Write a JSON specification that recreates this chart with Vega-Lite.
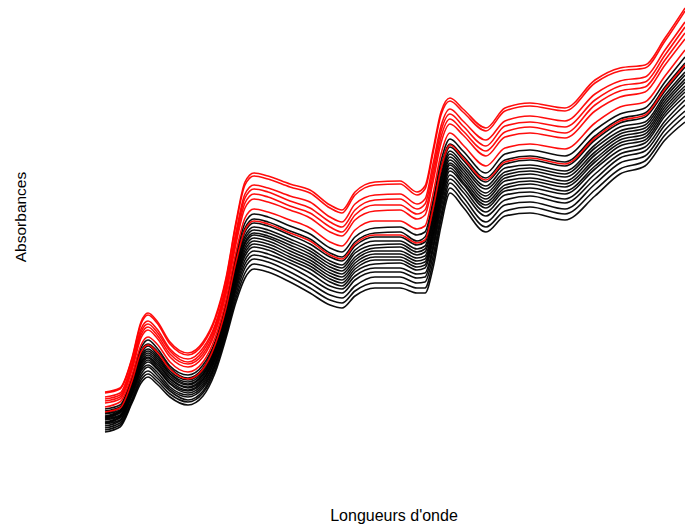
{
"$schema": "https://vega.github.io/schema/vega-lite/v6.json",
"width": 580, "height": 445,
"autosize": {"type": "none"},
"padding": {"left": 105, "top": 0, "right": 0, "bottom": 81},
"background": "white",
"config": {"view": {"stroke": null}},
"datasets": {
"black": [
{"g":1,"x":0,"y":36},{"g":1,"x":15,"y":40},{"g":1,"x":27,"y":68},{"g":1,"x":36,"y":97},{"g":1,"x":43,"y":105},{"g":1,"x":52,"y":97},{"g":1,"x":65,"y":79},{"g":1,"x":83,"y":70},{"g":1,"x":98,"y":80},{"g":1,"x":110,"y":103},{"g":1,"x":121,"y":141},{"g":1,"x":131,"y":189},{"g":1,"x":140,"y":222},{"g":1,"x":149,"y":231},{"g":1,"x":163,"y":228},{"g":1,"x":185,"y":219},{"g":1,"x":205,"y":211},{"g":1,"x":225,"y":197},{"g":1,"x":237,"y":193},{"g":1,"x":250,"y":208},{"g":1,"x":270,"y":217},{"g":1,"x":295,"y":218},{"g":1,"x":312,"y":210},{"g":1,"x":320,"y":213},{"g":1,"x":328,"y":244},{"g":1,"x":336,"y":284},{"g":1,"x":345,"y":306},{"g":1,"x":358,"y":294},{"g":1,"x":381,"y":272},{"g":1,"x":400,"y":291},{"g":1,"x":425,"y":295},{"g":1,"x":460,"y":289},{"g":1,"x":490,"y":315},{"g":1,"x":515,"y":331},{"g":1,"x":540,"y":337},{"g":1,"x":560,"y":363},{"g":1,"x":580,"y":388},
{"g":2,"x":0,"y":34},{"g":2,"x":15,"y":38},{"g":2,"x":27,"y":65},{"g":2,"x":36,"y":94},{"g":2,"x":43,"y":101},{"g":2,"x":52,"y":94},{"g":2,"x":65,"y":77},{"g":2,"x":83,"y":67},{"g":2,"x":98,"y":77},{"g":2,"x":110,"y":101},{"g":2,"x":121,"y":138},{"g":2,"x":131,"y":185},{"g":2,"x":140,"y":217},{"g":2,"x":149,"y":226},{"g":2,"x":163,"y":223},{"g":2,"x":185,"y":214},{"g":2,"x":205,"y":206},{"g":2,"x":225,"y":192},{"g":2,"x":237,"y":188},{"g":2,"x":250,"y":203},{"g":2,"x":270,"y":212},{"g":2,"x":295,"y":213},{"g":2,"x":312,"y":204},{"g":2,"x":320,"y":208},{"g":2,"x":328,"y":238},{"g":2,"x":336,"y":278},{"g":2,"x":345,"y":301},{"g":2,"x":358,"y":289},{"g":2,"x":381,"y":267},{"g":2,"x":400,"y":285},{"g":2,"x":425,"y":289},{"g":2,"x":460,"y":283},{"g":2,"x":490,"y":309},{"g":2,"x":515,"y":326},{"g":2,"x":540,"y":332},{"g":2,"x":560,"y":358},{"g":2,"x":580,"y":382},
{"g":3,"x":0,"y":32},{"g":3,"x":15,"y":37},{"g":3,"x":27,"y":64},{"g":3,"x":36,"y":91},{"g":3,"x":43,"y":99},{"g":3,"x":52,"y":91},{"g":3,"x":65,"y":74},{"g":3,"x":83,"y":65},{"g":3,"x":98,"y":75},{"g":3,"x":110,"y":98},{"g":3,"x":121,"y":136},{"g":3,"x":131,"y":181},{"g":3,"x":140,"y":213},{"g":3,"x":149,"y":222},{"g":3,"x":163,"y":219},{"g":3,"x":185,"y":210},{"g":3,"x":205,"y":201},{"g":3,"x":225,"y":188},{"g":3,"x":237,"y":184},{"g":3,"x":250,"y":199},{"g":3,"x":270,"y":208},{"g":3,"x":295,"y":208},{"g":3,"x":312,"y":200},{"g":3,"x":320,"y":203},{"g":3,"x":328,"y":234},{"g":3,"x":336,"y":274},{"g":3,"x":345,"y":298},{"g":3,"x":358,"y":285},{"g":3,"x":381,"y":263},{"g":3,"x":400,"y":281},{"g":3,"x":425,"y":285},{"g":3,"x":460,"y":279},{"g":3,"x":490,"y":305},{"g":3,"x":515,"y":322},{"g":3,"x":540,"y":328},{"g":3,"x":560,"y":354},{"g":3,"x":580,"y":378},
{"g":4,"x":0,"y":31},{"g":4,"x":15,"y":35},{"g":4,"x":27,"y":62},{"g":4,"x":36,"y":89},{"g":4,"x":43,"y":96},{"g":4,"x":52,"y":89},{"g":4,"x":65,"y":72},{"g":4,"x":83,"y":63},{"g":4,"x":98,"y":73},{"g":4,"x":110,"y":96},{"g":4,"x":121,"y":133},{"g":4,"x":131,"y":178},{"g":4,"x":140,"y":209},{"g":4,"x":149,"y":218},{"g":4,"x":163,"y":215},{"g":4,"x":185,"y":206},{"g":4,"x":205,"y":197},{"g":4,"x":225,"y":184},{"g":4,"x":237,"y":180},{"g":4,"x":250,"y":195},{"g":4,"x":270,"y":204},{"g":4,"x":295,"y":204},{"g":4,"x":312,"y":196},{"g":4,"x":320,"y":199},{"g":4,"x":328,"y":229},{"g":4,"x":336,"y":269},{"g":4,"x":345,"y":294},{"g":4,"x":358,"y":281},{"g":4,"x":381,"y":259},{"g":4,"x":400,"y":277},{"g":4,"x":425,"y":280},{"g":4,"x":460,"y":274},{"g":4,"x":490,"y":300},{"g":4,"x":515,"y":318},{"g":4,"x":540,"y":323},{"g":4,"x":560,"y":350},{"g":4,"x":580,"y":373},
{"g":5,"x":0,"y":29},{"g":5,"x":15,"y":34},{"g":5,"x":27,"y":60},{"g":5,"x":36,"y":87},{"g":5,"x":43,"y":94},{"g":5,"x":52,"y":87},{"g":5,"x":65,"y":71},{"g":5,"x":83,"y":61},{"g":5,"x":98,"y":71},{"g":5,"x":110,"y":95},{"g":5,"x":121,"y":132},{"g":5,"x":131,"y":176},{"g":5,"x":140,"y":206},{"g":5,"x":149,"y":215},{"g":5,"x":163,"y":212},{"g":5,"x":185,"y":203},{"g":5,"x":205,"y":194},{"g":5,"x":225,"y":181},{"g":5,"x":237,"y":177},{"g":5,"x":250,"y":192},{"g":5,"x":270,"y":200},{"g":5,"x":295,"y":201},{"g":5,"x":312,"y":193},{"g":5,"x":320,"y":196},{"g":5,"x":328,"y":225},{"g":5,"x":336,"y":266},{"g":5,"x":345,"y":291},{"g":5,"x":358,"y":278},{"g":5,"x":381,"y":256},{"g":5,"x":400,"y":273},{"g":5,"x":425,"y":277},{"g":5,"x":460,"y":271},{"g":5,"x":490,"y":297},{"g":5,"x":515,"y":314},{"g":5,"x":540,"y":320},{"g":5,"x":560,"y":347},{"g":5,"x":580,"y":370},
{"g":6,"x":0,"y":28},{"g":6,"x":15,"y":33},{"g":6,"x":27,"y":59},{"g":6,"x":36,"y":85},{"g":6,"x":43,"y":92},{"g":6,"x":52,"y":85},{"g":6,"x":65,"y":69},{"g":6,"x":83,"y":60},{"g":6,"x":98,"y":70},{"g":6,"x":110,"y":93},{"g":6,"x":121,"y":130},{"g":6,"x":131,"y":173},{"g":6,"x":140,"y":203},{"g":6,"x":149,"y":212},{"g":6,"x":163,"y":209},{"g":6,"x":185,"y":200},{"g":6,"x":205,"y":191},{"g":6,"x":225,"y":178},{"g":6,"x":237,"y":174},{"g":6,"x":250,"y":188},{"g":6,"x":270,"y":197},{"g":6,"x":295,"y":198},{"g":6,"x":312,"y":190},{"g":6,"x":320,"y":193},{"g":6,"x":328,"y":222},{"g":6,"x":336,"y":262},{"g":6,"x":345,"y":288},{"g":6,"x":358,"y":275},{"g":6,"x":381,"y":252},{"g":6,"x":400,"y":270},{"g":6,"x":425,"y":274},{"g":6,"x":460,"y":268},{"g":6,"x":490,"y":293},{"g":6,"x":515,"y":311},{"g":6,"x":540,"y":317},{"g":6,"x":560,"y":344},{"g":6,"x":580,"y":366},
{"g":7,"x":0,"y":27},{"g":7,"x":15,"y":32},{"g":7,"x":27,"y":58},{"g":7,"x":36,"y":83},{"g":7,"x":43,"y":90},{"g":7,"x":52,"y":83},{"g":7,"x":65,"y":67},{"g":7,"x":83,"y":58},{"g":7,"x":98,"y":68},{"g":7,"x":110,"y":91},{"g":7,"x":121,"y":128},{"g":7,"x":131,"y":171},{"g":7,"x":140,"y":201},{"g":7,"x":149,"y":210},{"g":7,"x":163,"y":207},{"g":7,"x":185,"y":197},{"g":7,"x":205,"y":188},{"g":7,"x":225,"y":175},{"g":7,"x":237,"y":171},{"g":7,"x":250,"y":185},{"g":7,"x":270,"y":194},{"g":7,"x":295,"y":194},{"g":7,"x":312,"y":187},{"g":7,"x":320,"y":189},{"g":7,"x":328,"y":218},{"g":7,"x":336,"y":259},{"g":7,"x":345,"y":285},{"g":7,"x":358,"y":272},{"g":7,"x":381,"y":249},{"g":7,"x":400,"y":267},{"g":7,"x":425,"y":271},{"g":7,"x":460,"y":264},{"g":7,"x":490,"y":290},{"g":7,"x":515,"y":308},{"g":7,"x":540,"y":314},{"g":7,"x":560,"y":341},{"g":7,"x":580,"y":363},
{"g":8,"x":0,"y":26},{"g":8,"x":15,"y":30},{"g":8,"x":27,"y":56},{"g":8,"x":36,"y":82},{"g":8,"x":43,"y":88},{"g":8,"x":52,"y":81},{"g":8,"x":65,"y":66},{"g":8,"x":83,"y":57},{"g":8,"x":98,"y":66},{"g":8,"x":110,"y":90},{"g":8,"x":121,"y":126},{"g":8,"x":131,"y":169},{"g":8,"x":140,"y":198},{"g":8,"x":149,"y":207},{"g":8,"x":163,"y":204},{"g":8,"x":185,"y":194},{"g":8,"x":205,"y":185},{"g":8,"x":225,"y":172},{"g":8,"x":237,"y":168},{"g":8,"x":250,"y":182},{"g":8,"x":270,"y":191},{"g":8,"x":295,"y":191},{"g":8,"x":312,"y":184},{"g":8,"x":320,"y":186},{"g":8,"x":328,"y":215},{"g":8,"x":336,"y":255},{"g":8,"x":345,"y":282},{"g":8,"x":358,"y":269},{"g":8,"x":381,"y":246},{"g":8,"x":400,"y":264},{"g":8,"x":425,"y":267},{"g":8,"x":460,"y":261},{"g":8,"x":490,"y":286},{"g":8,"x":515,"y":305},{"g":8,"x":540,"y":311},{"g":8,"x":560,"y":338},{"g":8,"x":580,"y":359},
{"g":9,"x":0,"y":25},{"g":9,"x":15,"y":29},{"g":9,"x":27,"y":55},{"g":9,"x":36,"y":80},{"g":9,"x":43,"y":87},{"g":9,"x":52,"y":79},{"g":9,"x":65,"y":64},{"g":9,"x":83,"y":55},{"g":9,"x":98,"y":65},{"g":9,"x":110,"y":88},{"g":9,"x":121,"y":124},{"g":9,"x":131,"y":166},{"g":9,"x":140,"y":195},{"g":9,"x":149,"y":204},{"g":9,"x":163,"y":201},{"g":9,"x":185,"y":191},{"g":9,"x":205,"y":182},{"g":9,"x":225,"y":169},{"g":9,"x":237,"y":165},{"g":9,"x":250,"y":179},{"g":9,"x":270,"y":188},{"g":9,"x":295,"y":188},{"g":9,"x":312,"y":181},{"g":9,"x":320,"y":183},{"g":9,"x":328,"y":211},{"g":9,"x":336,"y":252},{"g":9,"x":345,"y":280},{"g":9,"x":358,"y":266},{"g":9,"x":381,"y":243},{"g":9,"x":400,"y":260},{"g":9,"x":425,"y":264},{"g":9,"x":460,"y":258},{"g":9,"x":490,"y":283},{"g":9,"x":515,"y":302},{"g":9,"x":540,"y":308},{"g":9,"x":560,"y":335},{"g":9,"x":580,"y":356},
{"g":10,"x":0,"y":23},{"g":10,"x":15,"y":28},{"g":10,"x":27,"y":54},{"g":10,"x":36,"y":78},{"g":10,"x":43,"y":85},{"g":10,"x":52,"y":77},{"g":10,"x":65,"y":62},{"g":10,"x":83,"y":54},{"g":10,"x":98,"y":63},{"g":10,"x":110,"y":86},{"g":10,"x":121,"y":123},{"g":10,"x":131,"y":164},{"g":10,"x":140,"y":192},{"g":10,"x":149,"y":201},{"g":10,"x":163,"y":198},{"g":10,"x":185,"y":188},{"g":10,"x":205,"y":179},{"g":10,"x":225,"y":166},{"g":10,"x":237,"y":162},{"g":10,"x":250,"y":176},{"g":10,"x":270,"y":185},{"g":10,"x":295,"y":185},{"g":10,"x":312,"y":178},{"g":10,"x":320,"y":180},{"g":10,"x":328,"y":208},{"g":10,"x":336,"y":249},{"g":10,"x":345,"y":277},{"g":10,"x":358,"y":263},{"g":10,"x":381,"y":240},{"g":10,"x":400,"y":257},{"g":10,"x":425,"y":261},{"g":10,"x":460,"y":254},{"g":10,"x":490,"y":279},{"g":10,"x":515,"y":299},{"g":10,"x":540,"y":305},{"g":10,"x":560,"y":332},{"g":10,"x":580,"y":353},
{"g":11,"x":0,"y":22},{"g":11,"x":15,"y":27},{"g":11,"x":27,"y":52},{"g":11,"x":36,"y":76},{"g":11,"x":43,"y":83},{"g":11,"x":52,"y":76},{"g":11,"x":65,"y":61},{"g":11,"x":83,"y":52},{"g":11,"x":98,"y":61},{"g":11,"x":110,"y":85},{"g":11,"x":121,"y":121},{"g":11,"x":131,"y":161},{"g":11,"x":140,"y":189},{"g":11,"x":149,"y":198},{"g":11,"x":163,"y":195},{"g":11,"x":185,"y":185},{"g":11,"x":205,"y":176},{"g":11,"x":225,"y":163},{"g":11,"x":237,"y":159},{"g":11,"x":250,"y":173},{"g":11,"x":270,"y":181},{"g":11,"x":295,"y":182},{"g":11,"x":312,"y":175},{"g":11,"x":320,"y":177},{"g":11,"x":328,"y":204},{"g":11,"x":336,"y":245},{"g":11,"x":345,"y":274},{"g":11,"x":358,"y":261},{"g":11,"x":381,"y":237},{"g":11,"x":400,"y":254},{"g":11,"x":425,"y":257},{"g":11,"x":460,"y":251},{"g":11,"x":490,"y":276},{"g":11,"x":515,"y":295},{"g":11,"x":540,"y":302},{"g":11,"x":560,"y":329},{"g":11,"x":580,"y":349},
{"g":12,"x":0,"y":21},{"g":12,"x":15,"y":25},{"g":12,"x":27,"y":51},{"g":12,"x":36,"y":74},{"g":12,"x":43,"y":80},{"g":12,"x":52,"y":73},{"g":12,"x":65,"y":58},{"g":12,"x":83,"y":50},{"g":12,"x":98,"y":59},{"g":12,"x":110,"y":82},{"g":12,"x":121,"y":118},{"g":12,"x":131,"y":158},{"g":12,"x":140,"y":185},{"g":12,"x":149,"y":194},{"g":12,"x":163,"y":191},{"g":12,"x":185,"y":182},{"g":12,"x":205,"y":172},{"g":12,"x":225,"y":159},{"g":12,"x":237,"y":156},{"g":12,"x":250,"y":169},{"g":12,"x":270,"y":177},{"g":12,"x":295,"y":177},{"g":12,"x":312,"y":171},{"g":12,"x":320,"y":172},{"g":12,"x":328,"y":199},{"g":12,"x":336,"y":241},{"g":12,"x":345,"y":270},{"g":12,"x":358,"y":257},{"g":12,"x":381,"y":233},{"g":12,"x":400,"y":250},{"g":12,"x":425,"y":253},{"g":12,"x":460,"y":246},{"g":12,"x":490,"y":271},{"g":12,"x":515,"y":291},{"g":12,"x":540,"y":298},{"g":12,"x":560,"y":324},{"g":12,"x":580,"y":345},
{"g":13,"x":0,"y":19},{"g":13,"x":15,"y":24},{"g":13,"x":27,"y":49},{"g":13,"x":36,"y":71},{"g":13,"x":43,"y":78},{"g":13,"x":52,"y":70},{"g":13,"x":65,"y":56},{"g":13,"x":83,"y":48},{"g":13,"x":98,"y":57},{"g":13,"x":110,"y":80},{"g":13,"x":121,"y":116},{"g":13,"x":131,"y":155},{"g":13,"x":140,"y":181},{"g":13,"x":149,"y":190},{"g":13,"x":163,"y":187},{"g":13,"x":185,"y":178},{"g":13,"x":205,"y":167},{"g":13,"x":225,"y":155},{"g":13,"x":237,"y":152},{"g":13,"x":250,"y":165},{"g":13,"x":270,"y":173},{"g":13,"x":295,"y":173},{"g":13,"x":312,"y":167},{"g":13,"x":320,"y":168},{"g":13,"x":328,"y":195},{"g":13,"x":336,"y":236},{"g":13,"x":345,"y":266},{"g":13,"x":358,"y":253},{"g":13,"x":381,"y":229},{"g":13,"x":400,"y":245},{"g":13,"x":425,"y":249},{"g":13,"x":460,"y":242},{"g":13,"x":490,"y":266},{"g":13,"x":515,"y":287},{"g":13,"x":540,"y":294},{"g":13,"x":560,"y":320},{"g":13,"x":580,"y":340},
{"g":14,"x":0,"y":17},{"g":14,"x":15,"y":22},{"g":14,"x":27,"y":46},{"g":14,"x":36,"y":68},{"g":14,"x":43,"y":74},{"g":14,"x":52,"y":67},{"g":14,"x":65,"y":54},{"g":14,"x":83,"y":45},{"g":14,"x":98,"y":54},{"g":14,"x":110,"y":78},{"g":14,"x":121,"y":113},{"g":14,"x":131,"y":151},{"g":14,"x":140,"y":177},{"g":14,"x":149,"y":186},{"g":14,"x":163,"y":183},{"g":14,"x":185,"y":173},{"g":14,"x":205,"y":162},{"g":14,"x":225,"y":150},{"g":14,"x":237,"y":147},{"g":14,"x":250,"y":159},{"g":14,"x":270,"y":168},{"g":14,"x":295,"y":168},{"g":14,"x":312,"y":162},{"g":14,"x":320,"y":163},{"g":14,"x":328,"y":189},{"g":14,"x":336,"y":230},{"g":14,"x":345,"y":262},{"g":14,"x":358,"y":248},{"g":14,"x":381,"y":223},{"g":14,"x":400,"y":240},{"g":14,"x":425,"y":243},{"g":14,"x":460,"y":236},{"g":14,"x":490,"y":261},{"g":14,"x":515,"y":282},{"g":14,"x":540,"y":289},{"g":14,"x":560,"y":315},{"g":14,"x":580,"y":334},
{"g":15,"x":0,"y":15},{"g":15,"x":15,"y":20},{"g":15,"x":27,"y":44},{"g":15,"x":36,"y":65},{"g":15,"x":43,"y":71},{"g":15,"x":52,"y":64},{"g":15,"x":65,"y":51},{"g":15,"x":83,"y":43},{"g":15,"x":98,"y":52},{"g":15,"x":110,"y":75},{"g":15,"x":121,"y":110},{"g":15,"x":131,"y":147},{"g":15,"x":140,"y":172},{"g":15,"x":149,"y":181},{"g":15,"x":163,"y":178},{"g":15,"x":185,"y":168},{"g":15,"x":205,"y":157},{"g":15,"x":225,"y":145},{"g":15,"x":237,"y":142},{"g":15,"x":250,"y":154},{"g":15,"x":270,"y":162},{"g":15,"x":295,"y":162},{"g":15,"x":312,"y":157},{"g":15,"x":320,"y":157},{"g":15,"x":328,"y":183},{"g":15,"x":336,"y":225},{"g":15,"x":345,"y":257},{"g":15,"x":358,"y":243},{"g":15,"x":381,"y":218},{"g":15,"x":400,"y":234},{"g":15,"x":425,"y":238},{"g":15,"x":460,"y":231},{"g":15,"x":490,"y":255},{"g":15,"x":515,"y":276},{"g":15,"x":540,"y":284},{"g":15,"x":560,"y":310},{"g":15,"x":580,"y":329},
{"g":16,"x":0,"y":13},{"g":16,"x":15,"y":18},{"g":16,"x":27,"y":42},{"g":16,"x":36,"y":62},{"g":16,"x":43,"y":68},{"g":16,"x":52,"y":61},{"g":16,"x":65,"y":48},{"g":16,"x":83,"y":40},{"g":16,"x":98,"y":49},{"g":16,"x":110,"y":72},{"g":16,"x":121,"y":107},{"g":16,"x":131,"y":143},{"g":16,"x":140,"y":167},{"g":16,"x":149,"y":176},{"g":16,"x":163,"y":173},{"g":16,"x":185,"y":163},{"g":16,"x":205,"y":152},{"g":16,"x":225,"y":140},{"g":16,"x":237,"y":137},{"g":16,"x":250,"y":149},{"g":16,"x":270,"y":157},{"g":16,"x":295,"y":157},{"g":16,"x":312,"y":152},{"g":16,"x":320,"y":152},{"g":16,"x":328,"y":177},{"g":16,"x":336,"y":219},{"g":16,"x":345,"y":252},{"g":16,"x":358,"y":238},{"g":16,"x":381,"y":213},{"g":16,"x":400,"y":229},{"g":16,"x":425,"y":232},{"g":16,"x":460,"y":225},{"g":16,"x":490,"y":249},{"g":16,"x":515,"y":271},{"g":16,"x":540,"y":279},{"g":16,"x":560,"y":305},{"g":16,"x":580,"y":323}
],
"red": [
{"g":1,"x":0,"y":53},{"g":1,"x":15,"y":57},{"g":1,"x":27,"y":87},{"g":1,"x":36,"y":123},{"g":1,"x":43,"y":132},{"g":1,"x":52,"y":124},{"g":1,"x":65,"y":103},{"g":1,"x":83,"y":92},{"g":1,"x":98,"y":103},{"g":1,"x":110,"y":127},{"g":1,"x":121,"y":167},{"g":1,"x":131,"y":223},{"g":1,"x":140,"y":263},{"g":1,"x":149,"y":272},{"g":1,"x":163,"y":269},{"g":1,"x":185,"y":261},{"g":1,"x":205,"y":255},{"g":1,"x":225,"y":240},{"g":1,"x":237,"y":235},{"g":1,"x":250,"y":253},{"g":1,"x":270,"y":263},{"g":1,"x":295,"y":264},{"g":1,"x":312,"y":253},{"g":1,"x":320,"y":259},{"g":1,"x":328,"y":295},{"g":1,"x":336,"y":333},{"g":1,"x":345,"y":347},{"g":1,"x":358,"y":336},{"g":1,"x":381,"y":317},{"g":1,"x":400,"y":337},{"g":1,"x":425,"y":342},{"g":1,"x":460,"y":337},{"g":1,"x":490,"y":365},{"g":1,"x":515,"y":377},{"g":1,"x":540,"y":380},{"g":1,"x":560,"y":407},{"g":1,"x":580,"y":437},
{"g":2,"x":0,"y":52},{"g":2,"x":15,"y":56},{"g":2,"x":27,"y":86},{"g":2,"x":36,"y":121},{"g":2,"x":43,"y":130},{"g":2,"x":52,"y":122},{"g":2,"x":65,"y":101},{"g":2,"x":83,"y":90},{"g":2,"x":98,"y":101},{"g":2,"x":110,"y":125},{"g":2,"x":121,"y":165},{"g":2,"x":131,"y":221},{"g":2,"x":140,"y":260},{"g":2,"x":149,"y":269},{"g":2,"x":163,"y":266},{"g":2,"x":185,"y":258},{"g":2,"x":205,"y":252},{"g":2,"x":225,"y":237},{"g":2,"x":237,"y":232},{"g":2,"x":250,"y":250},{"g":2,"x":270,"y":260},{"g":2,"x":295,"y":261},{"g":2,"x":312,"y":250},{"g":2,"x":320,"y":256},{"g":2,"x":328,"y":292},{"g":2,"x":336,"y":330},{"g":2,"x":345,"y":344},{"g":2,"x":358,"y":333},{"g":2,"x":381,"y":314},{"g":2,"x":400,"y":334},{"g":2,"x":425,"y":339},{"g":2,"x":460,"y":334},{"g":2,"x":490,"y":362},{"g":2,"x":515,"y":374},{"g":2,"x":540,"y":377},{"g":2,"x":560,"y":404},{"g":2,"x":580,"y":434},
{"g":3,"x":0,"y":48},{"g":3,"x":15,"y":52},{"g":3,"x":27,"y":82},{"g":3,"x":36,"y":116},{"g":3,"x":43,"y":124},{"g":3,"x":52,"y":116},{"g":3,"x":65,"y":96},{"g":3,"x":83,"y":86},{"g":3,"x":98,"y":97},{"g":3,"x":110,"y":120},{"g":3,"x":121,"y":160},{"g":3,"x":131,"y":213},{"g":3,"x":140,"y":251},{"g":3,"x":149,"y":260},{"g":3,"x":163,"y":257},{"g":3,"x":185,"y":249},{"g":3,"x":205,"y":243},{"g":3,"x":225,"y":228},{"g":3,"x":237,"y":223},{"g":3,"x":250,"y":241},{"g":3,"x":270,"y":250},{"g":3,"x":295,"y":251},{"g":3,"x":312,"y":241},{"g":3,"x":320,"y":246},{"g":3,"x":328,"y":281},{"g":3,"x":336,"y":319},{"g":3,"x":345,"y":336},{"g":3,"x":358,"y":324},{"g":3,"x":381,"y":305},{"g":3,"x":400,"y":324},{"g":3,"x":425,"y":329},{"g":3,"x":460,"y":324},{"g":3,"x":490,"y":351},{"g":3,"x":515,"y":364},{"g":3,"x":540,"y":368},{"g":3,"x":560,"y":395},{"g":3,"x":580,"y":423},
{"g":4,"x":0,"y":46},{"g":4,"x":15,"y":50},{"g":4,"x":27,"y":79},{"g":4,"x":36,"y":113},{"g":4,"x":43,"y":121},{"g":4,"x":52,"y":113},{"g":4,"x":65,"y":94},{"g":4,"x":83,"y":83},{"g":4,"x":98,"y":94},{"g":4,"x":110,"y":118},{"g":4,"x":121,"y":157},{"g":4,"x":131,"y":209},{"g":4,"x":140,"y":247},{"g":4,"x":149,"y":256},{"g":4,"x":163,"y":253},{"g":4,"x":185,"y":244},{"g":4,"x":205,"y":237},{"g":4,"x":225,"y":223},{"g":4,"x":237,"y":218},{"g":4,"x":250,"y":235},{"g":4,"x":270,"y":245},{"g":4,"x":295,"y":246},{"g":4,"x":312,"y":236},{"g":4,"x":320,"y":241},{"g":4,"x":328,"y":275},{"g":4,"x":336,"y":314},{"g":4,"x":345,"y":331},{"g":4,"x":358,"y":319},{"g":4,"x":381,"y":299},{"g":4,"x":400,"y":319},{"g":4,"x":425,"y":323},{"g":4,"x":460,"y":318},{"g":4,"x":490,"y":345},{"g":4,"x":515,"y":359},{"g":4,"x":540,"y":363},{"g":4,"x":560,"y":390},{"g":4,"x":580,"y":418},
{"g":5,"x":0,"y":44},{"g":5,"x":15,"y":48},{"g":5,"x":27,"y":77},{"g":5,"x":36,"y":110},{"g":5,"x":43,"y":118},{"g":5,"x":52,"y":110},{"g":5,"x":65,"y":91},{"g":5,"x":83,"y":81},{"g":5,"x":98,"y":91},{"g":5,"x":110,"y":115},{"g":5,"x":121,"y":154},{"g":5,"x":131,"y":205},{"g":5,"x":140,"y":242},{"g":5,"x":149,"y":251},{"g":5,"x":163,"y":248},{"g":5,"x":185,"y":239},{"g":5,"x":205,"y":232},{"g":5,"x":225,"y":218},{"g":5,"x":237,"y":213},{"g":5,"x":250,"y":230},{"g":5,"x":270,"y":240},{"g":5,"x":295,"y":240},{"g":5,"x":312,"y":231},{"g":5,"x":320,"y":235},{"g":5,"x":328,"y":269},{"g":5,"x":336,"y":308},{"g":5,"x":345,"y":326},{"g":5,"x":358,"y":314},{"g":5,"x":381,"y":294},{"g":5,"x":400,"y":313},{"g":5,"x":425,"y":318},{"g":5,"x":460,"y":312},{"g":5,"x":490,"y":340},{"g":5,"x":515,"y":354},{"g":5,"x":540,"y":358},{"g":5,"x":560,"y":385},{"g":5,"x":580,"y":412},
{"g":6,"x":0,"y":42},{"g":6,"x":15,"y":46},{"g":6,"x":27,"y":75},{"g":6,"x":36,"y":107},{"g":6,"x":43,"y":115},{"g":6,"x":52,"y":107},{"g":6,"x":65,"y":88},{"g":6,"x":83,"y":78},{"g":6,"x":98,"y":88},{"g":6,"x":110,"y":112},{"g":6,"x":121,"y":151},{"g":6,"x":131,"y":201},{"g":6,"x":140,"y":237},{"g":6,"x":149,"y":246},{"g":6,"x":163,"y":243},{"g":6,"x":185,"y":235},{"g":6,"x":205,"y":227},{"g":6,"x":225,"y":213},{"g":6,"x":237,"y":209},{"g":6,"x":250,"y":225},{"g":6,"x":270,"y":234},{"g":6,"x":295,"y":235},{"g":6,"x":312,"y":226},{"g":6,"x":320,"y":230},{"g":6,"x":328,"y":263},{"g":6,"x":336,"y":302},{"g":6,"x":345,"y":321},{"g":6,"x":358,"y":310},{"g":6,"x":381,"y":289},{"g":6,"x":400,"y":308},{"g":6,"x":425,"y":312},{"g":6,"x":460,"y":307},{"g":6,"x":490,"y":334},{"g":6,"x":515,"y":348},{"g":6,"x":540,"y":353},{"g":6,"x":560,"y":380},{"g":6,"x":580,"y":406},
{"g":7,"x":0,"y":38},{"g":7,"x":15,"y":43},{"g":7,"x":27,"y":70},{"g":7,"x":36,"y":100},{"g":7,"x":43,"y":108},{"g":7,"x":52,"y":101},{"g":7,"x":65,"y":83},{"g":7,"x":83,"y":73},{"g":7,"x":98,"y":83},{"g":7,"x":110,"y":107},{"g":7,"x":121,"y":145},{"g":7,"x":131,"y":193},{"g":7,"x":140,"y":227},{"g":7,"x":149,"y":236},{"g":7,"x":163,"y":233},{"g":7,"x":185,"y":225},{"g":7,"x":205,"y":217},{"g":7,"x":225,"y":203},{"g":7,"x":237,"y":199},{"g":7,"x":250,"y":215},{"g":7,"x":270,"y":224},{"g":7,"x":295,"y":224},{"g":7,"x":312,"y":216},{"g":7,"x":320,"y":219},{"g":7,"x":328,"y":251},{"g":7,"x":336,"y":291},{"g":7,"x":345,"y":312},{"g":7,"x":358,"y":300},{"g":7,"x":381,"y":279},{"g":7,"x":400,"y":297},{"g":7,"x":425,"y":301},{"g":7,"x":460,"y":296},{"g":7,"x":490,"y":322},{"g":7,"x":515,"y":338},{"g":7,"x":540,"y":343},{"g":7,"x":560,"y":369},{"g":7,"x":580,"y":395},
{"g":8,"x":0,"y":33},{"g":8,"x":15,"y":37},{"g":8,"x":27,"y":64},{"g":8,"x":36,"y":93},{"g":8,"x":43,"y":100},{"g":8,"x":52,"y":93},{"g":8,"x":65,"y":76},{"g":8,"x":83,"y":66},{"g":8,"x":98,"y":76},{"g":8,"x":110,"y":100},{"g":8,"x":121,"y":137},{"g":8,"x":131,"y":183},{"g":8,"x":140,"y":215},{"g":8,"x":149,"y":224},{"g":8,"x":163,"y":221},{"g":8,"x":185,"y":212},{"g":8,"x":205,"y":204},{"g":8,"x":225,"y":190},{"g":8,"x":237,"y":186},{"g":8,"x":250,"y":201},{"g":8,"x":270,"y":210},{"g":8,"x":295,"y":210},{"g":8,"x":312,"y":202},{"g":8,"x":320,"y":205},{"g":8,"x":328,"y":236},{"g":8,"x":336,"y":276},{"g":8,"x":345,"y":300},{"g":8,"x":358,"y":287},{"g":8,"x":381,"y":265},{"g":8,"x":400,"y":283},{"g":8,"x":425,"y":287},{"g":8,"x":460,"y":281},{"g":8,"x":490,"y":307},{"g":8,"x":515,"y":324},{"g":8,"x":540,"y":330},{"g":8,"x":560,"y":356},{"g":8,"x":580,"y":380}
]
},
"encoding": {
"x": {"field": "x", "type": "quantitative", "scale": {"domain": [0, 580], "nice": false, "zero": false},
 "axis": {"title": "Longueurs d'onde", "domain": false, "ticks": false, "labels": false, "grid": false, "titleFont": "Liberation Sans", "titleFontSize": 16, "titleFontWeight": "normal", "titleColor": "#000000", "titleX": 288.5, "titleY": 75, "titleBaseline": "alphabetic", "titleAlign": "center"}},
"y": {"field": "y", "type": "quantitative", "scale": {"domain": [0, 445], "nice": false, "zero": false},
 "axis": {"title": "Absorbances", "domain": false, "ticks": false, "labels": false, "grid": false, "titleFont": "Liberation Sans", "titleFontSize": 15.5, "titleFontWeight": "normal", "titleColor": "#000000", "titleX": -80, "titleY": 216.5, "titleAngle": -90, "titleBaseline": "alphabetic", "titleAlign": "center"}},
"detail": {"field": "g", "type": "nominal"}
},
"layer": [
{"data": {"name": "black"}, "mark": {"type": "line", "color": "#000000", "strokeWidth": 1.6, "opacity": 0.95, "interpolate": "monotone"}},
{"data": {"name": "red"}, "mark": {"type": "line", "color": "#ff0000", "strokeWidth": 1.6, "opacity": 0.95, "interpolate": "monotone"}}
]
}
